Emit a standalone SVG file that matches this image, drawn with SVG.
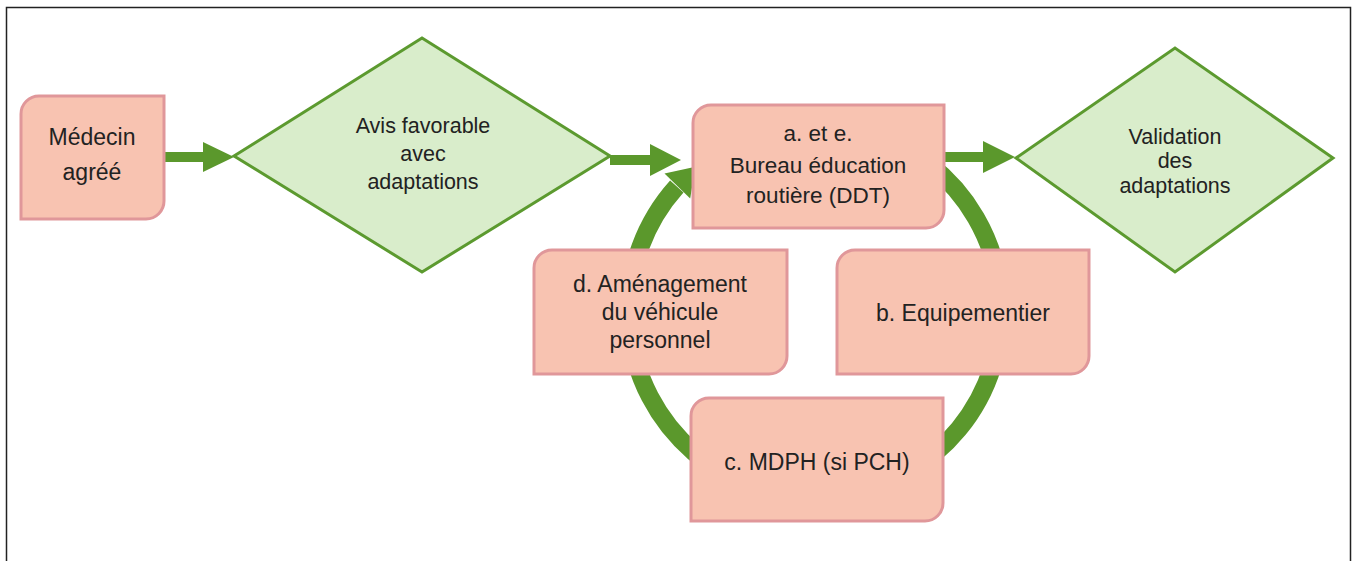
<svg xmlns="http://www.w3.org/2000/svg" width="1355" height="561" viewBox="0 0 1355 561">
<style>
.box{fill:#F8C3B1;stroke:#E0979A;stroke-width:3}
.dia{fill:#D9EDCB;stroke:#5C9A2F;stroke-width:3}
.t{font-family:"Liberation Sans",Arial,sans-serif;fill:#222;text-anchor:middle}
.s{font-size:21.5px}
.m{font-size:22.5px}
.l{font-size:23px}
.shaft{stroke:#5B982C;stroke-width:10;fill:none}
.head{fill:#5B982C}
</style>
<rect x="6.5" y="7.5" width="1344" height="600" fill="#fff" stroke="#222" stroke-width="1.5"/>
<g id="connectors">
<path d="M 929.5 164.4 A 186 186 0 1 1 676.8 186.5" fill="none" stroke="#5B982C" stroke-width="18"/>
<polygon class="head" points="664.5,173.5 695.5,166.7 690.2,198.5"/>
<path class="shaft" d="M164 157 H205"/>
<polygon class="head" points="203,142 234,157 203,172"/>
<path class="shaft" d="M610 160 H652"/>
<polygon class="head" points="650,144 681,160 650,176"/>
<path class="shaft" d="M944 157 H985"/>
<polygon class="head" points="983,141 1015,157 983,173"/>
</g>
<g id="medecin">
<path class="box" d="M39 96 H164 V201 A18 18 0 0 1 146 219 H21 V114 A18 18 0 0 1 39 96 Z"/>
<text class="t l" x="92" y="145">Médecin</text>
<text class="t l" x="92" y="180">agréé</text>
</g>
<g id="avis">
<polygon class="dia" points="234,156 422,38 610,156 422,272"/>
<text class="t s" x="423" y="133">Avis favorable</text>
<text class="t s" x="423" y="161">avec</text>
<text class="t s" x="423" y="189">adaptations</text>
</g>
<g id="bureau">
<path class="box" d="M711 105 H944 V210 A18 18 0 0 1 926 228 H693 V123 A18 18 0 0 1 711 105 Z"/>
<text class="t m" x="818" y="141">a. et e.</text>
<text class="t m" x="818" y="173">Bureau éducation</text>
<text class="t m" x="818" y="203">routière (DDT)</text>
</g>
<g id="validation">
<polygon class="dia" points="1016,158 1175,48 1333,158 1175,272"/>
<text class="t s" x="1175" y="144">Validation</text>
<text class="t s" x="1175" y="168">des</text>
<text class="t s" x="1175" y="193">adaptations</text>
</g>
<g id="amenagement">
<path class="box" d="M552 250 H787 V356 A18 18 0 0 1 769 374 H534 V268 A18 18 0 0 1 552 250 Z"/>
<text class="t l" x="660" y="292">d. Aménagement</text>
<text class="t l" x="660" y="320">du véhicule</text>
<text class="t l" x="660" y="348">personnel</text>
</g>
<g id="equipementier">
<path class="box" d="M855 250 H1089 V356 A18 18 0 0 1 1071 374 H837 V268 A18 18 0 0 1 855 250 Z"/>
<text class="t l" x="963" y="321">b. Equipementier</text>
</g>
<g id="mdph">
<path class="box" d="M709 398 H943 V503 A18 18 0 0 1 925 521 H691 V416 A18 18 0 0 1 709 398 Z"/>
<text class="t l" x="817" y="470">c. MDPH (si PCH)</text>
</g>
</svg>
